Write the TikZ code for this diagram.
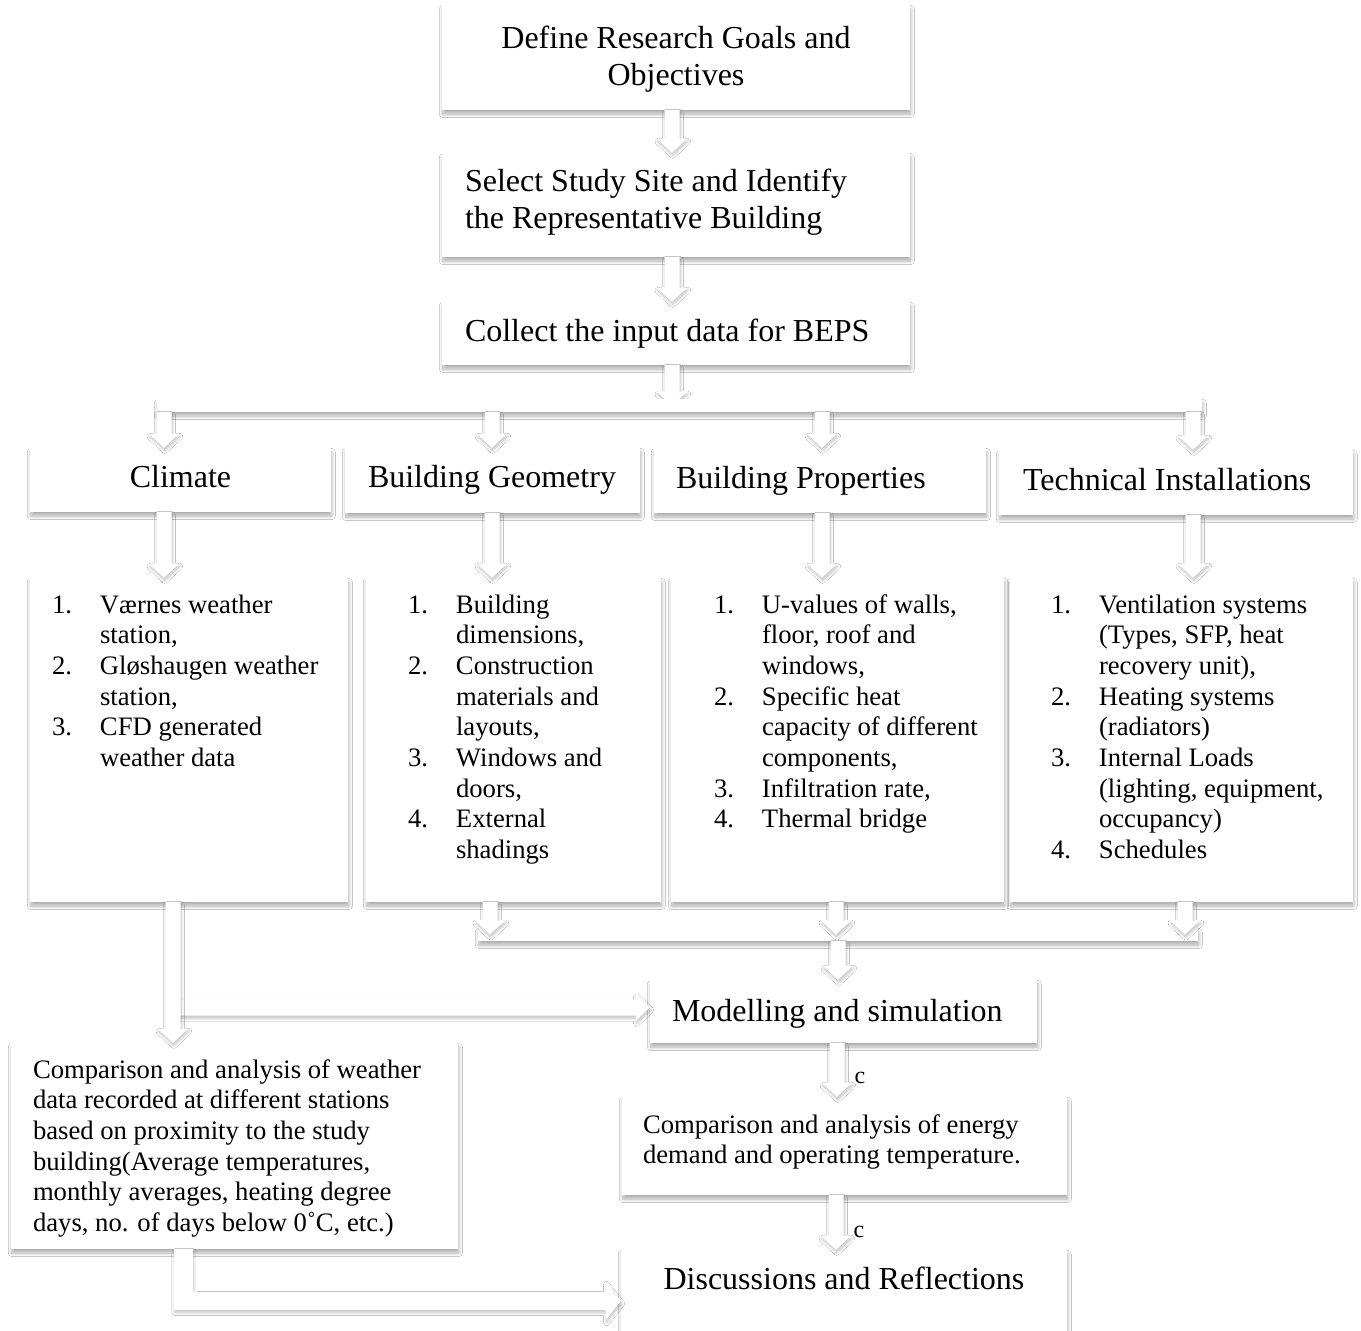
\documentclass[tikz,border=0pt]{standalone}
\usepackage{fontspec}
\setmainfont{Liberation Serif}
\usetikzlibrary{calc,shadows.blur}
\newcommand\itm[1]{\makebox[48pt][l]{#1}}
\newcommand\cnt{\hspace*{48pt}}
\newcommand\vArrow[2]{\path[blockarrow] let \p1=(#1), \p2=(#2) in
  (\x1-7.5pt,\y1) -- (\x1+7.5pt,\y1) -- (\x1+7.5pt,\y2+14pt) -- (\x1+15pt,\y2+14pt)
  -- (\x1,\y2) -- (\x1-15pt,\y2+14pt) -- (\x1-7.5pt,\y2+14pt) -- cycle;}
\newcommand\hArrow[2]{\path[blockarrow] let \p1=(#1), \p2=(#2) in
  (\x1,\y2+8pt) -- (\x2-14pt,\y2+8pt) -- (\x2-14pt,\y2+13.5pt) -- (\x2,\y2)
  -- (\x2-14pt,\y2-13.5pt) -- (\x2-14pt,\y2-8pt) -- (\x1,\y2-8pt) -- cycle;}
\tikzset{
  shd/.style={blur shadow={shadow xshift=0.8pt, shadow yshift=-4pt, shadow blur radius=3.5pt, shadow blur steps=10, shadow opacity=32}},
  ashd/.style={blur shadow={shadow xshift=0.8pt, shadow yshift=-2.5pt, shadow blur radius=3pt, shadow blur steps=10, shadow opacity=26}},
  panel/.style={shd, fill=white, draw=none, rectangle, inner sep=0pt},
  blockarrow/.style={ashd, fill=white},
  bigtxt/.style={font=\fontsize{32}{36.8}\selectfont, inner sep=0pt},
  smalltxt/.style={font=\fontsize{26.67}{30.7}\selectfont, inner sep=0pt, align=left},
  ctxt/.style={font=\fontsize{24}{28}\selectfont, inner sep=0pt, anchor=base},
}
\begin{document}
\begin{tikzpicture}[x=1pt,y=-1pt]
\useasboundingbox (0,0) rectangle (1361,1331);
\fill[white] (0,0) rectangle (1361,1331);

% column coordinates
\coordinate (xa) at (672,0);
\coordinate (x1) at (164,0);
\coordinate (x2) at (492,0);
\coordinate (x3) at (822,0);
\coordinate (x4) at (1193,0);
\coordinate (y1) at (490,0);
\coordinate (y2) at (836,0);
\coordinate (y3) at (1185,0);
\coordinate (xm) at (838,0);
\coordinate (xc) at (173,0);
\coordinate (xbr) at (178,0);
\coordinate (xe) at (837,0);
\coordinate (xd) at (836,0);
\coordinate (xel) at (183.5,0);

% boxes
\node[panel, minimum width=468pt, minimum height=105pt] (goals) at (676,57.5) {};
\node[panel, minimum width=468pt, minimum height=104pt] (select) at (676,205) {};
\node[panel, minimum width=468pt, minimum height=63pt] (collect) at (676,333.5) {};
\node[panel, minimum width=301pt, minimum height=64pt] (clim) at (180.5,480) {};
\node[panel, minimum width=295pt, minimum height=65pt] (geom) at (492.5,480.5) {};
\node[panel, minimum width=332pt, minimum height=65pt] (prop) at (820,480.5) {};
\node[panel, minimum width=354pt, minimum height=65pt] (tech) at (1176,482.5) {};
\node[panel, minimum width=318pt, minimum height=324pt] (climl) at (189,740) {};
\node[panel, minimum width=295pt, minimum height=324pt] (geoml) at (513.5,740) {};
\node[panel, minimum width=333pt, minimum height=324pt] (propl) at (837.5,740) {};
\node[panel, minimum width=343pt, minimum height=324pt] (techl) at (1181.5,740) {};
\node[panel, minimum width=387pt, minimum height=63pt] (mod) at (843.5,1011.5) {};
\node[panel, minimum width=447pt, minimum height=206pt] (cmpw) at (234.5,1146) {};
\node[panel, minimum width=445pt, minimum height=98pt] (cmpe) at (844.5,1146) {};
\node[panel, minimum width=446pt, minimum height=95pt] (disc) at (844,1297.5) {};

% texts
\node[bigtxt, align=center, anchor=north] (goals-t) at ($(goals.north)+(0,18.2)$) {\strut Define Research Goals and\\Objectives};
\node[bigtxt, align=left, anchor=north west] (select-t) at ($(select.north west)+(23,13.2)$) {\strut Select Study Site and Identify\\the Representative Building};
\node[bigtxt, anchor=base west] (collect-t) at ($(collect.north west)+(23,40)$) {Collect the input data for BEPS};
\node[bigtxt, anchor=base] (clim-t) at ($(clim.north)+(0,40)$) {Climate};
\node[bigtxt, anchor=base west] (geom-t) at ($(geom.north west)+(23,40)$) {Building Geometry};
\node[bigtxt, anchor=base west] (prop-t) at ($(prop.north west)+(22,41)$) {Building Properties};
\node[bigtxt, anchor=base west] (tech-t) at ($(tech.north west)+(24,41)$) {Technical Installations};

\node[smalltxt, anchor=north west] (climl-t) at ($(climl.north west)+(22,13.5)$)
 {\strut\itm{1.}Værnes weather\\\cnt station,\\\itm{2.}Gløshaugen weather\\\cnt station,\\\itm{3.}CFD generated\\\cnt weather data};
\node[smalltxt, anchor=north west] (geoml-t) at ($(geoml.north west)+(42,13.5)$)
 {\strut\itm{1.}Building\\\cnt dimensions,\\\itm{2.}Construction\\\cnt materials and\\\cnt layouts,\\\itm{3.}Windows and\\\cnt doors,\\\itm{4.}External\\\cnt shadings};
\node[smalltxt, anchor=north west] (propl-t) at ($(propl.north west)+(43,13.5)$)
 {\strut\itm{1.}U-values of walls,\\\cnt floor, roof and\\\cnt windows,\\\itm{2.}Specific heat\\\cnt capacity of different\\\cnt components,\\\itm{3.}Infiltration rate,\\\itm{4.}Thermal bridge};
\node[smalltxt, anchor=north west] (techl-t) at ($(techl.north west)+(41,13.5)$)
 {\strut\itm{1.}Ventilation systems\\\cnt (Types, SFP, heat\\\cnt recovery unit),\\\itm{2.}Heating systems\\\cnt (radiators)\\\itm{3.}Internal Loads\\\cnt (lighting, equipment,\\\cnt occupancy)\\\itm{4.}Schedules};

\node[bigtxt, anchor=base west] (mod-t) at ($(mod.north west)+(22,42)$) {Modelling and simulation};
\node[smalltxt, anchor=north west] (cmpw-t) at ($(cmpw.north west)+(22,13.5)$)
 {\strut Comparison and analysis of weather\\data recorded at different stations\\based on proximity to the study\\building(Average temperatures,\\monthly averages, heating degree\\days, no. of days below 0˚C, etc.)};
\node[smalltxt, anchor=north west] (cmpe-t) at ($(cmpe.north west)+(21,14.5)$)
 {\strut Comparison and analysis of energy\\demand and operating temperature.};
\node[bigtxt, anchor=base] (disc-t) at ($(disc.north)+(0,40)$) {Discussions and Reflections};

\node[ctxt] (c1) at (860,1083) {c};
\node[ctxt] (c2) at (859,1237) {c};

% arrows top
\vArrow{goals.south -| xa}{select.north -| xa}
\vArrow{select.south -| xa}{collect.north -| xa}
\vArrow{collect.south -| xa}{$(collect.south -| xa)+(0,40.5)$}
\node[panel, minimum width=1045pt, minimum height=13pt] (bar1) at (679.5,405.5) {};
\vArrow{bar1.south -| x1}{clim.north -| x1}
\vArrow{bar1.south -| x2}{geom.north -| x2}
\vArrow{bar1.south -| x3}{prop.north -| x3}
\vArrow{bar1.south -| x4}{tech.north -| x4}
\vArrow{clim.south -| x1}{climl.north -| x1}
\vArrow{geom.south -| x2}{geoml.north -| x2}
\vArrow{prop.south -| x3}{propl.north -| x3}
\vArrow{tech.south -| x4}{techl.north -| x4}

% bottom join
\node[panel, minimum width=720pt, minimum height=13pt] (bar2) at (838,934.5) {};
\vArrow{geoml.south -| y1}{bar2.center -| y1}
\vArrow{propl.south -| y2}{bar2.center -| y2}
\vArrow{techl.south -| y3}{bar2.center -| y3}
\vArrow{bar2.south -| xm}{mod.north -| xm}

% climate branch
\coordinate (brend) at ($(mod.west)+(0,-4)$);
\hArrow{brend -| xbr}{brend}
\vArrow{climl.south -| xc}{cmpw.north -| xc}

% lower chain
\vArrow{mod.south -| xe}{cmpe.north -| xe}
\vArrow{cmpe.south -| xd}{disc.north -| xd}
\path[blockarrow] let \p1=(cmpw.south -| xel), \p2=($(disc.west)+(0,3.5)$) in
  (\x1-9.5pt,\y1) -- (\x1+9.5pt,\y1) -- (\x1+9.5pt,\y2+9pt) -- (\x2-15pt,\y2+9pt)
  -- (\x2-15pt,\y2+19pt) -- (\x2,\y2) -- (\x2-15pt,\y2-19pt) -- (\x2-15pt,\y2-9pt)
  -- (\x1-9.5pt,\y2-9pt) -- cycle;
\end{tikzpicture}
\end{document}
